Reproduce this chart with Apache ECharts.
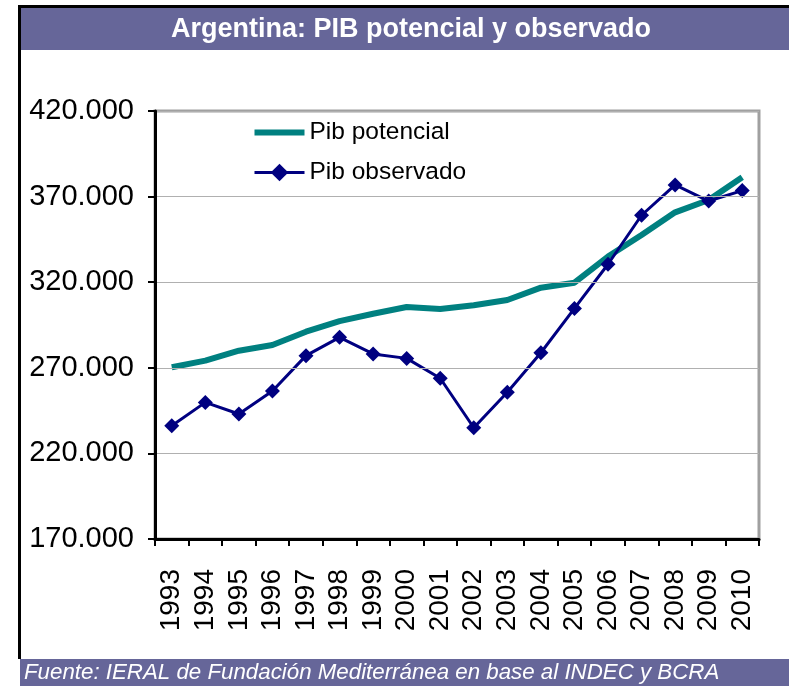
<!DOCTYPE html>
<html><head><meta charset="utf-8">
<script src="https://cdn.jsdelivr.net/npm/echarts@6/dist/echarts.min.js"></script>
<style>html,body{margin:0;padding:0;background:#fff}#c{width:789px;height:686px}</style>
</head><body><div id="c"></div>
<script>
const years = ['1993','1994','1995','1996','1997','1998','1999','2000','2001','2002','2003','2004','2005','2006','2007','2008','2009','2010'];
const pibPotencial = [270.3,274.2,280.0,283.3,291.1,297.3,301.6,305.5,304.4,306.5,309.6,316.8,319.7,335.0,347.6,360.8,368.0,381.3];
const pibObservado = [236.2,249.8,243.0,256.4,277.1,287.8,278.1,275.5,263.9,235.0,255.7,278.8,304.7,330.5,359.1,376.8,367.4,373.5];
const yMin = 170, yMax = 420, yStep = 50;

const FONT = '"Liberation Sans", Arial, sans-serif';
const chart = echarts.init(document.getElementById('c'), null, {renderer:'canvas'});
chart.setOption({
  animation: false,
  backgroundColor: '#ffffff',
  graphic: [
    {type:'rect', shape:{x:18,y:5,width:3,height:654}, style:{fill:'#000'}, z:1},
    {type:'rect', shape:{x:18,y:5,width:771,height:3}, style:{fill:'#000'}, z:1},
    {type:'rect', shape:{x:21,y:8,width:768,height:42}, style:{fill:'#666699'}, z:1},
    {type:'rect', shape:{x:20,y:659,width:769,height:27}, style:{fill:'#666699'}, z:1},
    {type:'text', x:411, y:30, z:2, style:{text:'Argentina: PIB potencial y observado', fill:'#fff', font:'bold 27px ' + FONT, align:'center', verticalAlign:'middle', textAlign:'center', textVerticalAlign:'middle'}},
    {type:'text', x:24, y:673, z:2, style:{text:'Fuente: IERAL de Fundación Mediterránea en base al INDEC y BCRA', fill:'#fff', font:'italic 22.3px ' + FONT, align:'left', verticalAlign:'middle', textAlign:'left', textVerticalAlign:'middle'}}
  ],
  grid: {left:155, top:111, width:604, height:428, show:true, borderColor:'#a0a0a0', borderWidth:3, backgroundColor:'transparent', containLabel:false},
  legend: {
    orient:'vertical', left:253, top:120, padding:0, itemWidth:50, itemHeight:22, itemGap:15,
    textStyle:{fontSize:24.5, fontFamily:FONT, color:'#000', lineHeight:25},
    data:[
      {name:'Pib potencial', icon:'path://M0,0H50V6H0Z'},
      {name:'Pib observado', lineStyle:{width:3, color:'#000080'}}
    ]
  },
  xAxis: {
    type:'category', data: years, boundaryGap:true,
    axisLine:{lineStyle:{color:'#000', width:3}},
    axisTick:{show:true, interval:0, length:7, lineStyle:{color:'#000', width:2}},
    axisLabel:{interval:0, rotate:90, margin:30, fontSize:28, fontFamily:FONT, color:'#000'},
    splitLine:{show:false}, z:5
  },
  yAxis: {
    type:'value', min:0, max:yMax - yMin, interval:yStep,
    axisLine:{show:true, lineStyle:{color:'#000', width:3}},
    axisTick:{show:true, length:7, lineStyle:{color:'#000', width:2}},
    axisLabel:{margin:21, fontSize:29, fontFamily:FONT, color:'#000', formatter: v => (v + yMin).toFixed(3)},
    splitLine:{show:true, lineStyle:{color:'#b0b0b0', width:1}}, z:5
  },
  series: [
    {name:'Pib potencial', type:'line', data: pibPotencial.map(v => +(v - yMin).toFixed(3)), symbol:'none', z:2,
     lineStyle:{color:'#008080', width:6}, itemStyle:{color:'#008080'}},
    {name:'Pib observado', type:'line', data: pibObservado.map(v => +(v - yMin).toFixed(3)), symbol:'diamond', symbolSize:15, showAllSymbol:true, z:3,
     lineStyle:{color:'#000080', width:3}, itemStyle:{color:'#000080'}}
  ]
});
</script></body></html>
